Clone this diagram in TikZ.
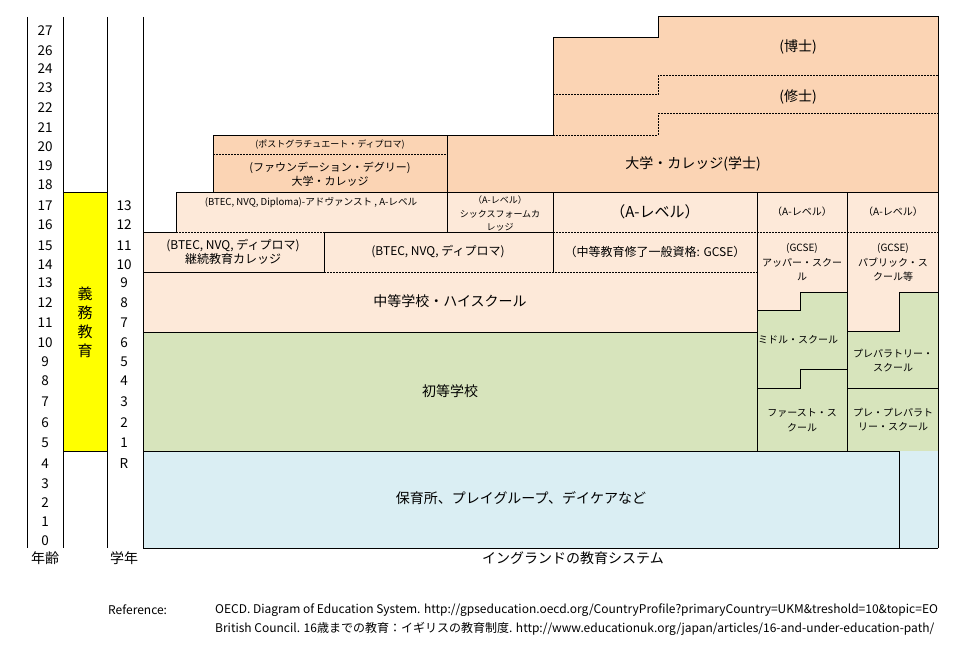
\documentclass[tikz,border=0pt]{standalone}
\usepackage{fontspec}
\setmainfont{Noto Sans CJK JP}
\definecolor{orD}{HTML}{FBD4B4}
\definecolor{orL}{HTML}{FDE9D9}
\definecolor{grn}{HTML}{D7E4BC}
\definecolor{blu}{HTML}{DAEEF3}
\definecolor{yel}{HTML}{FFFF00}
\tikzset{
  ln/.style={line width=1pt, line join=miter},
  dotln/.style={line width=1pt, dash pattern=on 1.5pt off 1.5pt},
  num/.style={font=\fontsize{13.5}{15}\selectfont, inner sep=0pt},
  big/.style={font=\fontsize{14}{16}\selectfont, inner sep=0pt, align=center},
  mid/.style={font=\fontsize{12}{14}\selectfont, inner sep=0pt, align=center},
  midb/.style={font=\fontsize{11}{14}\selectfont, inner sep=0pt, align=center},
  sm/.style={font=\fontsize{10}{14.5}\selectfont, inner sep=0pt, align=center},
  xs/.style={font=\fontsize{9}{13.5}\selectfont, inner sep=0pt, align=center},
  foot/.style={font=\fontsize{12}{13}\selectfont, inner sep=0pt, anchor=west},
}
\begin{document}
\begin{tikzpicture}[x=1pt,y=-1pt]
\useasboundingbox (0,0) rectangle (979,666);
% ---- fills ----
\fill[orD] (213,192) -- (213,135) -- (553,135) -- (553,38) -- (658,38) -- (658,17) -- (938,17) -- (938,192) -- cycle;
\fill[orL] (143,232) -- (176,232) -- (176,192) -- (938,192) -- (938,292) -- (899,292) -- (899,331) -- (847,331) -- (847,292) -- (800,292) -- (800,310) -- (757,310) -- (757,332) -- (143,332) -- cycle;
\fill[grn] (143,332) -- (757,332) -- (757,310) -- (800,310) -- (800,292) -- (847,292) -- (847,331) -- (899,331) -- (899,292) -- (938,292) -- (938,451) -- (143,451) -- cycle;
\fill[blu] (143,451) rectangle (938,548);
\fill[yel] (63,192) rectangle (107,451);
% ---- upper (dark orange) ----
\draw[ln] (213,192) -- (213,135) -- (553,135) -- (553,38) -- (658,38) -- (658,17) -- (938,17) -- (938,192);
\draw[ln] (176,192) -- (938,192);
\draw[ln] (447,135) -- (447,232);
\draw[dotln] (213,154) -- (447,154);
\draw[dotln] (553,135) -- (658,135) -- (658,114) -- (938,114);
\draw[dotln] (553,95) -- (658,95) -- (658,76) -- (938,76);
% ---- light orange ----
\draw[ln] (176,192) -- (176,232);
\draw[ln] (143,232) -- (176,232);
\draw[dotln] (176,232) -- (324,232);
\draw[ln] (324,232) -- (553,232);
\draw[ln] (553,192) -- (553,272);
\draw[dotln] (553,232) -- (938,232);
\draw[ln] (143,272) -- (324,272) -- (324,232);
\draw[dotln] (324,272) -- (757,272);
\draw[ln] (757,192) -- (757,451);
\draw[ln] (847,192) -- (847,451);
\draw[ln] (938,192) -- (938,548);
\draw[ln] (143,332) -- (757,332);
\draw[ln] (757,310) -- (800,310) -- (800,292) -- (847,292);
\draw[ln] (847,331) -- (899,331) -- (899,292) -- (938,292);
% ---- green ----
\draw[ln] (757,388) -- (800,388) -- (800,369) -- (847,369);
\draw[ln] (847,388) -- (938,388);
% ---- blue ----
\draw[ln] (143,451) -- (899,451) -- (899,548);
\draw[ln] (143,548) -- (938,548);
% ---- left columns ----
\draw[ln] (27,17) -- (27,548);
\draw[ln] (63,17) -- (63,548);
\draw[ln] (107,17) -- (107,548);
\draw[ln] (143,17) -- (143,548);
\draw[ln] (63,192) -- (107,192);
\draw[ln] (63,451) -- (107,451);
% ---- texts upper ----
\node[big] (phd) at (798,47) {(博士)};
\node[big] (msc) at (798,97) {(修士)};
\node[big] (bach) at (693,164) {大学・カレッジ(学士)};
\node[xs] (pgd) at (330,145) {(ポストグラチュエート・ディプロマ)};
\node[midb] (fdg) at (330,174) {(ファウンデーション・デグリー)\\大学・カレッジ};
% ---- texts light orange ----
\node[xs, font=\fontsize{9.6}{13.5}\selectfont] (adv) at (311,203) {(BTEC, NVQ, Diploma)-アドヴァンスト , A-レベル};
\node[xs] (sixth) at (500,213.5) {（A-レベル）\\シックスフォームカ\\レッジ};
\node[big, font=\fontsize{15}{16}\selectfont] (alev) at (655,212) {（A-レベル）};
\node[mid] (fec) at (233,252) {(BTEC, NVQ, ディプロマ)\\継続教育カレッジ};
\node[mid] (btec) at (438,252) {(BTEC, NVQ, ディプロマ)};
\node[mid] (gcse) at (655,252) {（中等教育修了一般資格: GCSE）};
\node[big] (sec) at (450,301) {中等学校・ハイスクール};
\node[sm] (alevH) at (802,212) {（A-レベル）};
\node[sm] (alevI) at (893,212) {（A-レベル）};
\node[sm] (upper) at (802,262.5) {(GCSE)\\アッパー・スクー\\ル};
\node[sm] (public) at (893,262.5) {(GCSE)\\パブリック・ス\\クール等};
% ---- texts green / blue ----
\node[big] (prim) at (450,391) {初等学校};
\node[sm] (middle) at (798,340) {ミドル・スクール};
\node[sm] (prep) at (893,360.5) {プレパラトリー・\\スクール};
\node[sm] (first) at (802,420.5) {ファースト・ス\\クール};
\node[sm] (preprep) at (893,419.5) {プレ・プレパラト\\リー・スクール};
\node[big] (nurs) at (521,498) {保育所、プレイグループ、デイケアなど};
% ---- left columns text ----
\foreach \v/\yy in {27/31,26/51,24/69,23/88,22/108,21/128,20/147,19/166,18/185,17/206,16/225,15/246,14/265,13/283,12/303,11/323,10/343,9/362,8/381,7/402,6/423,5/443,4/464,3/484,2/503,1/522,0/541}
  \node[num] (age\v) at (45,\yy) {\v};
\foreach \v/\yy in {13/206,12/225,11/246,10/265,9/283,8/303,7/323,6/343,5/362,4/381,3/402,2/423,1/443,R/464}
  \node[num] (gr\v) at (124,\yy) {\v};
\node[font=\fontsize{15}{19}\selectfont, inner sep=0pt, align=center] (gimu) at (85,322) {義\\務\\教\\育};
\node[big] (nenrei) at (45,558) {年齢};
\node[big] (gakunen) at (124,558) {学年};
\node[big] (title) at (573,558) {イングランドの教育システム};
% ---- footer ----
\node[foot] (refl) at (108,610) {Reference:};
\node[foot] (ref1) at (215,610) {OECD. Diagram of Education System. http://gpseducation.oecd.org/CountryProfile?primaryCountry=UKM\&treshold=10\&topic=EO};
\node[foot] (ref2) at (215,629) {British Council. 16歳までの教育：イギリスの教育制度. http://www.educationuk.org/japan/articles/16-and-under-education-path/};
\end{tikzpicture}
\end{document}
